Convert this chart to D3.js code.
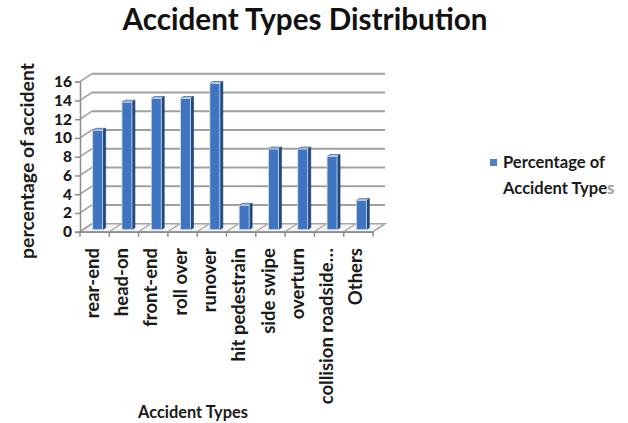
<!DOCTYPE html>
<html><head><meta charset="utf-8">
<script src="https://cdn.jsdelivr.net/npm/d3@7"></script>
<style>body{margin:0;background:#fff}svg{display:block}</style>
</head><body>
<svg id="c" width="628" height="423"></svg>
<script>
const categories = ["rear-end","head-on","front-end","roll over","runover","hit pedestrain","side swipe","overturn","collision roadside…","Others"];
const values = [10.6,13.6,14.0,14.0,15.6,2.6,8.6,8.6,7.8,3.1];
const yTicks = [0,2,4,6,8,10,12,14,16];
const titleText = "Accident Types Distribution";
const yTitleText = "percentage of accident";
const xTitleText = "Accident Types";
const legendLines = ["Percentage of","Accident Types"];

const svg = d3.select("#c");
const FONT = "Lato, 'Open Sans', sans-serif";
const DX = 12, DY = -8;           // depth vector of the 3D box
const x = d3.scaleBand().domain(categories).range([80, 373]).padding(0);
const y = d3.scaleLinear().domain([0, 16]).range([231.7, 81.7]);

function fit(sel, target){
  sel.style("font-size","20px");
  const len = sel.node().getComputedTextLength();
  sel.style("font-size", (20*target/len).toFixed(2)+"px");
  return sel;
}

// floor
const x0 = x.range()[0], x1 = x.range()[1], y0 = y(0);
svg.append("path")
  .attr("d", `M${x0},${y0}L${x1},${y0}L${x1+DX},${y0+DY}L${x0+DX},${y0+DY}Z`)
  .attr("fill","#f4f4f4").attr("stroke","#a6a6a6").attr("stroke-width",1.5);
svg.append("g").selectAll("line").data(categories.slice(1)).join("line")
  .attr("x1", d=>x(d)).attr("y1", y0).attr("x2", d=>x(d)+DX).attr("y2", y0+DY)
  .attr("stroke","#a6a6a6").attr("stroke-width",1.3);

// back wall gridlines + left wall diagonals
const grid = svg.append("g");
grid.selectAll("line.g").data(yTicks.filter(t=>t>0)).join("line").attr("class","g")
  .attr("x1", x0+DX).attr("x2", x1+DX).attr("y1", d=>y(d)+DY).attr("y2", d=>y(d)+DY)
  .attr("stroke","#a0a0a0").attr("stroke-width",2);
grid.selectAll("line.d").data(yTicks).join("line").attr("class","d")
  .attr("x1", x0).attr("x2", x0+DX).attr("y1", d=>y(d)).attr("y2", d=>y(d)+DY)
  .attr("stroke","#a0a0a0").attr("stroke-width",1.5);

// y axis
const yAxis = svg.append("g").attr("transform",`translate(${x0},0)`)
  .call(d3.axisLeft(y).tickValues(yTicks).tickSize(5).tickPadding(3));
yAxis.select(".domain").attr("stroke","#8c8c8c").attr("stroke-width",1.5);
yAxis.selectAll(".tick line").attr("stroke","#8c8c8c").attr("stroke-width",1.5);
yAxis.selectAll(".tick text").attr("font-family",FONT).attr("font-weight","900")
  .attr("font-size","15.5px").attr("fill","#1a1a1a");

// x axis ticks + labels
const xAxis = svg.append("g").attr("transform",`translate(0,${y0})`)
  .call(d3.axisBottom(x).tickSize(0).tickFormat(""));
xAxis.select(".domain").attr("stroke","#8c8c8c").attr("stroke-width",1.5);
xAxis.selectAll(".edge").data(categories.concat([null])).join("line").attr("class","edge")
  .attr("x1",(d,i)=> i<categories.length ? x(d) : x1).attr("x2",(d,i)=> i<categories.length ? x(d) : x1)
  .attr("y1",0).attr("y2",5).attr("stroke","#8c8c8c").attr("stroke-width",1.5);
svg.append("g").selectAll("text").data(categories).join("text")
  .attr("transform", d=>`translate(${x(d)+x.bandwidth()/2-1.5},248) rotate(-90)`)
  .attr("dy","0.3em").attr("text-anchor","end")
  .attr("font-family",FONT).attr("font-weight","bold").attr("font-size","18.5px")
  .attr("fill","#1a1a1a").text(d=>d);

// bars (3D)
const f0 = 0.25, fd = 0.25, bw = 10;
const bars = svg.append("g").selectAll("g").data(categories.map((c,i)=>({c, v: values[i]}))).join("g");
const bx = d => x(d.c) + x.bandwidth()/2 - bw/2 + f0*DX;
const bb = () => y0 + f0*DY;
const bt = d => y(d.v) + f0*DY;
const sx = fd*DX, sy = fd*DY;
bars.append("path") // side
  .attr("d", d=>`M${bx(d)+bw},${bt(d)}L${bx(d)+bw+sx},${bt(d)+sy}L${bx(d)+bw+sx},${bb()+sy}L${bx(d)+bw},${bb()}Z`)
  .attr("fill","#25497a").attr("stroke","#1d3a63").attr("stroke-width",0.6);
bars.append("path") // top
  .attr("d", d=>`M${bx(d)},${bt(d)}L${bx(d)+sx},${bt(d)+sy}L${bx(d)+bw+sx},${bt(d)+sy}L${bx(d)+bw},${bt(d)}Z`)
  .attr("fill","#a9c8ee").attr("stroke","#1d3a63").attr("stroke-width",0.6);
bars.append("rect") // front
  .attr("x", bx).attr("y", bt).attr("width", bw).attr("height", d=>bb()-bt(d))
  .attr("fill","#3f74c0").attr("stroke","#cfe0f5").attr("stroke-width",0.8);

// titles
fit(svg.append("text").attr("x",305).attr("y",30).attr("text-anchor","middle")
  .attr("font-family",FONT).attr("font-weight","bold").attr("fill","#111").text(titleText), 365);
fit(svg.append("text").attr("transform","translate(34,161) rotate(-90)").attr("text-anchor","middle")
  .attr("font-family",FONT).attr("font-weight","bold").attr("fill","#1a1a1a").text(yTitleText), 196);
fit(svg.append("text").attr("x",193).attr("y",418).attr("text-anchor","middle")
  .attr("font-family",FONT).attr("font-weight","bold").attr("fill","#1a1a1a").text(xTitleText), 110);

// legend
svg.append("rect").attr("x",490).attr("y",159).attr("width",7).attr("height",7).attr("fill","#4f81bd");
const l1 = svg.append("text").attr("x",503).attr("y",168).attr("font-family",FONT)
  .attr("font-weight","bold").attr("fill","#1a1a1a").text(legendLines[0]);
fit(l1, 102);
const l2 = svg.append("text").attr("x",503).attr("y",194).attr("font-family",FONT)
  .attr("font-weight","bold").attr("fill","#1a1a1a").style("font-size", l1.style("font-size"));
l2.append("tspan").text(legendLines[1].slice(0,-1));
l2.append("tspan").attr("fill","#9a9a9a").text(legendLines[1].slice(-1));
</script>
</body></html>
